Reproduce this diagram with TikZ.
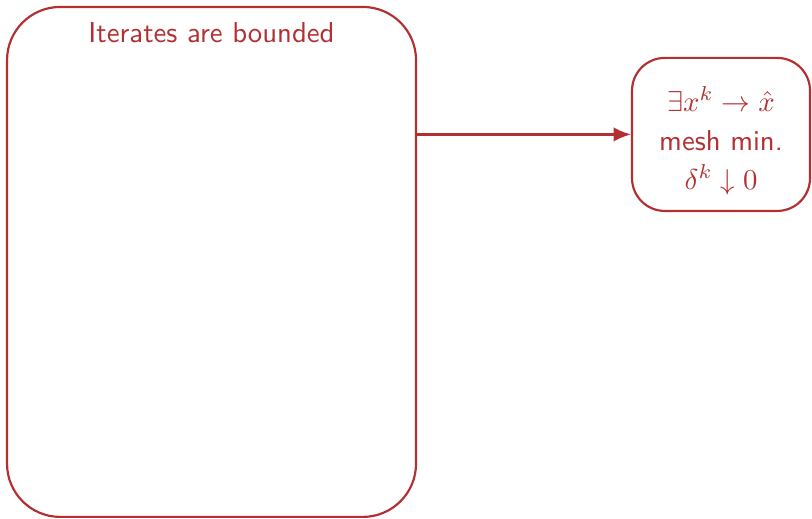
\documentclass[tikz,border=0pt]{standalone}
\usepackage{tikz}
\usetikzlibrary{arrows.meta,positioning}

\definecolor{bndred}{RGB}{178,48,50}

\begin{document}
\begin{tikzpicture}[font=\sffamily, draw=bndred, text=bndred, line width=0.75pt]
\useasboundingbox (0,0) rectangle (9.923,6.342);
\node[draw, rounded corners=0.65cm, minimum width=4.998cm, minimum height=6.232cm] (bounded) at (2.585,3.141) {};
\node[below=2pt of bounded.north] (boundedtitle) {Iterates are bounded};
% text sits a little below the middle of the box
\node[draw, rounded corners=0.40cm, minimum width=2.175cm, minimum height=1.870cm] (limit) at (8.811,4.699)
  {\raisebox{-2.8pt}[\height][\depth]{\renewcommand{\arraystretch}{1.13}\begin{tabular}{@{}c@{}}$\exists x^k \to \hat{x}$\\ mesh min.\\ $\delta^k \downarrow 0$\end{tabular}}};
\draw[-{Latex[length=6pt,width=5pt]}, bndred] (limit.west -| bounded.east) -- (limit.west);
\end{tikzpicture}
\end{document}
